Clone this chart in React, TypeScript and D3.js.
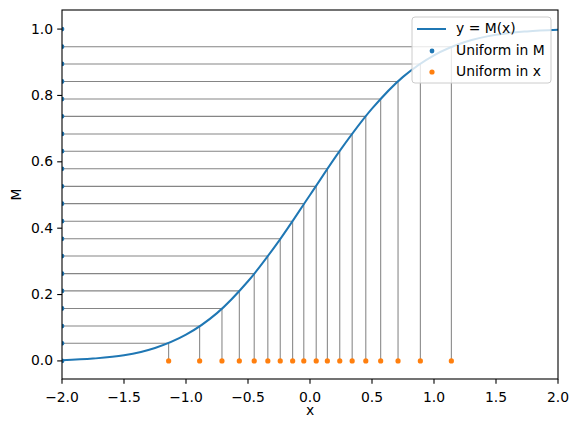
import * as d3 from "d3";

// curve y = M(x)
const curveX = [-2, -1.75, -1.5, -1.25, -1, -0.75, -0.5, -0.25, 0, 0.25, 0.5, 0.75, 1, 1.25, 1.5, 1.75, 2];
const curveY = [0.002, 0.007, 0.017, 0.039, 0.079, 0.144, 0.24, 0.362, 0.5, 0.638, 0.76, 0.856, 0.921, 0.961, 0.983, 0.993, 0.998];

// uniform in M (blue, at x = -2)
const uniformM = [0, 0.053, 0.105, 0.158, 0.211, 0.263, 0.316, 0.368, 0.421, 0.474, 0.526, 0.579, 0.632, 0.684, 0.737, 0.789, 0.842, 0.895, 0.947, 1.0];
// uniform in x (orange, at M = 0)
const uniformX = [-1.14, -0.89, -0.71, -0.57, -0.45, -0.34, -0.24, -0.14, -0.05, 0.05, 0.14, 0.24, 0.34, 0.45, 0.57, 0.71, 0.89, 1.14];

const xTicks = [-2, -1.5, -1, -0.5, 0, 0.5, 1, 1.5, 2];
const yTicks = [0, 0.2, 0.4, 0.6, 0.8, 1.0];

const W = 579;
const H = 426;
const L = 62, R = 558, T = 10, B = 379;
const BLUE = "#1f77b4";
const ORANGE = "#ff7f0e";
const FONT = "DejaVu Sans, sans-serif";
const FS = 13.9;

export default function App() {
  const x = d3.scaleLinear().domain([-2, 2]).range([L, R]);
  const y = d3.scaleLinear().domain([-0.0545, 1.0575]).range([B, T]);

  const line = d3
    .line<number>()
    .x((_, i) => x(curveX[i]))
    .y((d) => y(d))
    .curve(d3.curveCatmullRom);

  // inner points pair M values with x values
  const pairs = uniformX.map((xv, i) => ({ xv, mv: uniformM[i + 1] }));

  return (
    <svg width={W} height={H} style={{ position: "absolute", left: 0, top: 0, background: "#fff" }}
      fontFamily={FONT} fontSize={FS}>
      <defs>
        <clipPath id="plot">
          <rect x={L} y={T} width={R - L} height={B - T} />
        </clipPath>
      </defs>
      <rect width={W} height={H} fill="#fff" />
      <g clipPath="url(#plot)">
        {pairs.map((p, i) => (
          <g key={i} stroke="#858585" strokeWidth={1.05}>
            <line x1={x(-2)} x2={x(p.xv)} y1={y(p.mv)} y2={y(p.mv)} />
            <line x1={x(p.xv)} x2={x(p.xv)} y1={y(p.mv)} y2={y(0)} />
          </g>
        ))}
        <path d={line(curveY) ?? ""} fill="none" stroke={BLUE} strokeWidth={2} />
        {uniformM.map((m, i) => (
          <circle key={i} cx={x(-2)} cy={y(m)} r={2.4} fill={BLUE} />
        ))}
        {uniformX.map((v, i) => (
          <circle key={i} cx={x(v)} cy={y(0)} r={2.6} fill={ORANGE} />
        ))}
      </g>
      <rect x={L} y={T} width={R - L} height={B - T} fill="none" stroke="#000" strokeWidth={1.1} />

      {xTicks.map((t) => (
        <g key={t} transform={`translate(${x(t)},${B})`}>
          <line y2={4.8} stroke="#000" strokeWidth={1.1} />
          <text y={18.5} dy="0.32em" textAnchor="middle" fill="#000">
            {d3.format(".1f")(t).replace("-", "\u2212")}
          </text>
        </g>
      ))}
      {yTicks.map((t) => (
        <g key={t} transform={`translate(${L},${y(t)})`}>
          <line x2={-4.8} stroke="#000" strokeWidth={1.1} />
          <text x={-9} dy="0.32em" textAnchor="end" fill="#000">
            {d3.format(".1f")(t)}
          </text>
        </g>
      ))}
      <text x={(L + R) / 2} y={414.5} textAnchor="middle" fill="#000">x</text>
      <text transform={`translate(21,${(T + B) / 2}) rotate(-90)`} textAnchor="middle" fill="#000">M</text>

      <g transform="translate(412,17)">
        <rect width={139} height={66} rx={3} fill="#fff" fillOpacity={0.8} stroke="#cccccc" strokeWidth={1} />
        <line x1={5} x2={34} y1={12} y2={12} stroke={BLUE} strokeWidth={2} />
        <text x={44} y={12} dy="0.32em" fill="#000">y = M(x)</text>
        <circle cx={20} cy={34} r={2.4} fill={BLUE} />
        <text x={44} y={34} dy="0.32em" fill="#000">Uniform in M</text>
        <circle cx={20} cy={55} r={2.6} fill={ORANGE} />
        <text x={44} y={55} dy="0.32em" fill="#000">Uniform in x</text>
      </g>
    </svg>
  );
}
